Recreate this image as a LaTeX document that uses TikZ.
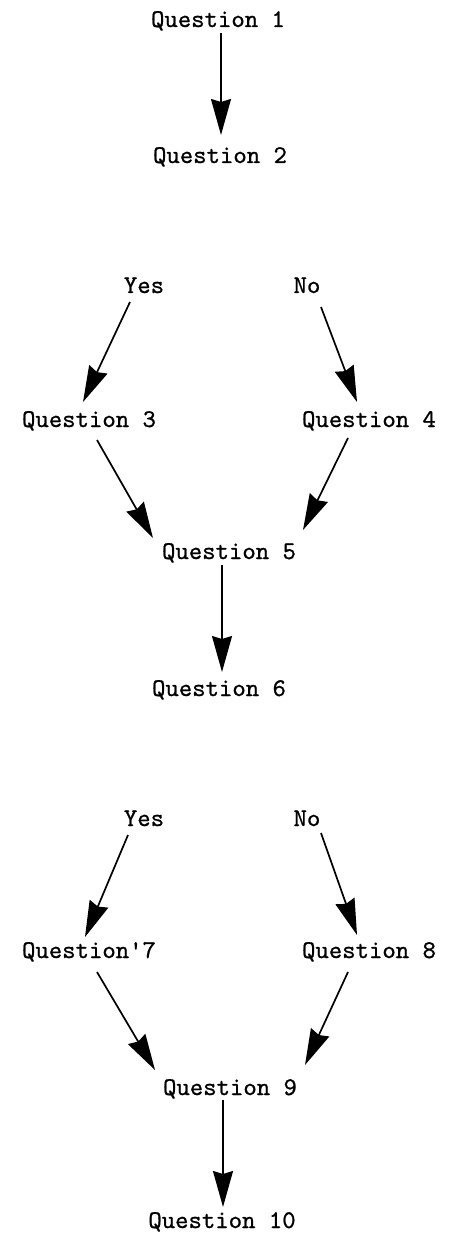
\documentclass[tikz,border=0pt]{standalone}
\usepackage{fontspec}
\newfontfamily\tyfont{lmmono10-regular.otf}[FakeBold=0.8]
\usetikzlibrary{arrows.meta}
\tikzset{
  qtext/.style={font=\fontsize{25.5}{30}\selectfont\tyfont, inner sep=0pt, anchor=base},
  flow/.style={line width=1.7pt, -{Stealth[length=36pt,width=20pt,inset=3pt]}}
}
\begin{document}
\begin{tikzpicture}[x=1pt,y=-1pt]
\useasboundingbox[fill=white] (0,0) rectangle (449,1238);
\node[qtext] (q1) at (218,27) {Question 1};
\node[qtext] (q2) at (220,163) {Question 2};
\node[qtext] (yes1) at (144,293) {Yes};
\node[qtext] (no1) at (307,293) {No};
\node[qtext] (q3) at (89,427) {Question 3};
\node[qtext] (q4) at (369,427) {Question 4};
\node[qtext] (q5) at (229,559) {Question 5};
\node[qtext] (q6) at (219,696) {Question 6};
\node[qtext] (yes2) at (144,826) {Yes};
\node[qtext] (no2) at (307,826) {No};
\node[qtext] (q7) at (89,958) {Question'7};
\node[qtext] (q8) at (369,958) {Question 8};
\node[qtext] (q9) at (230,1095) {Question 9};
\node[qtext] (q10) at (222,1228) {Question 10};

\draw[flow] ([shift={(3,6)}]q1.base) -- ([shift={(1,-28)}]q2.base);
\draw[flow] ([shift={(-14,9)}]yes1.base) -- ([shift={(-6,-25)}]q3.base);
\draw[flow] ([shift={(14,14)}]no1.base) -- ([shift={(-12,-25)}]q4.base);
\draw[flow] ([shift={(8,13)}]q3.base) -- ([shift={(-76,-21)}]q5.base);
\draw[flow] ([shift={(-21,11)}]q4.base) -- ([shift={(74,-29)}]q5.base);
\draw[flow] ([shift={(-7,6)}]q5.base) -- ([shift={(3,-24)}]q6.base);
\draw[flow] ([shift={(-16,9)}]yes2.base) -- ([shift={(-4,-21)}]q7.base);
\draw[flow] ([shift={(14,7)}]no2.base) -- ([shift={(-12,-23)}]q8.base);
\draw[flow] ([shift={(8,14)}]q7.base) -- ([shift={(-75,-25)}]q9.base);
\draw[flow] ([shift={(-21,14)}]q8.base) -- ([shift={(75,-30)}]q9.base);
\draw[flow] ([shift={(-7,5)}]q9.base) -- ([shift={(1,-21)}]q10.base);
\end{tikzpicture}
\end{document}
